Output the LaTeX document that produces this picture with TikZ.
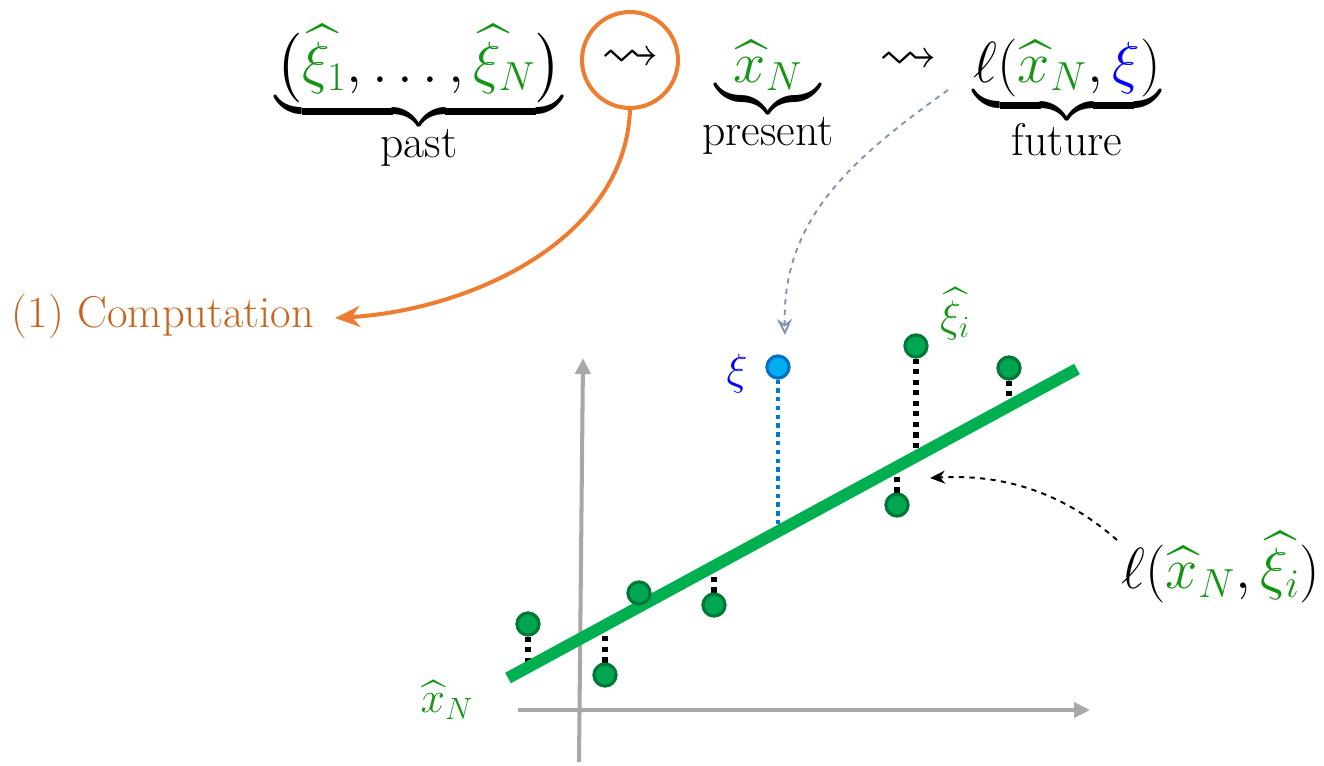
\RequirePackage{fix-cm}
\documentclass[tikz,border=0pt]{standalone}
\usepackage{amsmath,amssymb}
\DeclareFontFamily{U}{msa}{}
\DeclareFontShape{U}{msa}{m}{n}{<-6>msam5<6-8>msam7<8->msam10}{}
\usetikzlibrary{arrows.meta}
\definecolor{myorange}{RGB}{237,125,49}
\definecolor{txtorange}{RGB}{200,100,30}
\definecolor{mygreen}{RGB}{20,150,20}
\definecolor{linegreen}{RGB}{0,176,80}
\definecolor{ptfill}{RGB}{0,166,81}
\definecolor{ptdraw}{RGB}{0,120,55}
\definecolor{bfill}{RGB}{0,174,239}
\definecolor{bdraw}{RGB}{0,114,198}
\definecolor{axgray}{RGB}{168,168,168}
\definecolor{slate}{RGB}{130,150,180}
\definecolor{dotblue}{RGB}{0,120,210}
\newcommand{\G}[1]{{\color{mygreen}#1}}
\newcommand{\B}[1]{{\color{blue}#1}}
\newcommand{\lbl}[1]{\hbox{\fontsize{26}{30}\selectfont\vphantom{p}#1}}
\begin{document}
\begin{tikzpicture}[x=0.02cm,y=-0.02cm,
  big/.style={font=\fontsize{33}{40}\selectfont, inner sep=0pt},
  mid/.style={font=\fontsize{25}{30}\selectfont, inner sep=0pt},
  pt/.style={circle, minimum size=0.44cm, inner sep=0pt, fill=ptfill, draw=ptdraw, line width=1.7pt},
  bpt/.style={circle, minimum size=0.44cm, inner sep=0pt, fill=bfill, draw=bdraw, line width=1.7pt},
  dotline/.style={line width=3pt, dash pattern=on 3pt off 3pt},
  axis/.style={axgray, line width=2.3pt, -{Triangle[length=0.32cm,width=0.3cm]}}
]
\useasboundingbox (0,0) rectangle (1324,765);

% top formula
\node[big, anchor=base] (past) at (419,82)
  {$\underbrace{\bigl(\G{\widehat{\xi}_1},\ldots,\G{\widehat{\xi}_N}\bigr)}_{\lbl{past}}$};
\node[big, circle, draw=myorange, line width=2.3pt, minimum size=1.92cm] (circ) at (630,60) {$\rightsquigarrow$};
\node[big, anchor=base] (present) at (768,82)
  {$\underbrace{\G{\widehat{x}_N}}_{\lbl{present}}$};
\node[big] (sq) at (908,62) {$\rightsquigarrow$};
\node[big, anchor=base] (future) at (1067,82)
  {$\underbrace{\ell(\G{\widehat{x}_N},\B{\xi})}_{\lbl{future}}$};

\node[mid, font=\fontsize{25.4}{30}\selectfont, text=txtorange] (comp) at (163,316) {(1) Computation};
\coordinate (compend) at (335,318);

% axes
\coordinate (xa0) at (518,710);
\coordinate (xa1) at (1090,710);
\coordinate (ya0) at (579,762);
\coordinate (ya1) at (583,358);
\draw[axis] (xa0) -- (xa1);
\draw[axis] (ya0) -- (ya1);

% points
\node[pt] (p1) at (528,624) {};
\node[pt] (p2) at (605,675) {};
\node[pt] (p3) at (639,593) {};
\node[pt] (p4) at (714,605) {};
\node[bpt] (pb) at (778,367) {};
\node[pt] (p6) at (897,505) {};
\node[pt] (p7) at (916,346) {};
\node[pt] (p8) at (1009,368) {};

\coordinate (l1) at (528,667);
\coordinate (l2) at (605,625);
\coordinate (l4) at (714,566);
\coordinate (lb) at (778,531);
\coordinate (l6) at (897,467);
\coordinate (l7) at (916,457);
\coordinate (l8) at (1009,406);

\draw[dotline] (p1) -- (l1);
\draw[dotline] (p2) -- (l2);
\draw[dotline] (p4) -- (l4);
\draw[dotline, dotblue, line width=2.5pt, dash pattern=on 2.5pt off 2.5pt] (pb) -- (lb);
\draw[dotline] (p6) -- (l6);
\draw[dotline] (p7) -- (l7);
\draw[dotline] (p8) -- (l8);

\coordinate (la) at (508,678);
\coordinate (lz) at (1077,369);
\draw[linegreen, line width=6.8pt] (la) -- (lz);

% redraw points on top
\foreach \x/\y in {528/624, 605/675, 639/593, 714/605, 897/505, 916/346, 1009/368}
  \node[pt] at (\x,\y) {};
\node[bpt] at (778,367) {};

% labels
\node[mid, text=mygreen] (xil) at (955,314) {$\widehat{\xi}_i$};
\node[mid, text=blue] (xib) at (737,374) {$\xi$};
\node[mid, text=mygreen] (xnl) at (447,700) {$\widehat{x}_N$};
\node[big] (loss) at (1221,567) {$\ell(\G{\widehat{x}_N},\G{\widehat{\xi}_i})$};

% arrows
\coordinate (ls) at (1117,540);
\coordinate (lossarr) at (930,478);
\draw[dashed, line width=1.1pt, -{Stealth[length=0.3cm,width=0.26cm]}]
  (ls) .. controls (1060,490) and (1000,474) .. (lossarr);
\coordinate (gs) at (948,90);
\coordinate (ge) at (785,335);
\draw[slate, dashed, line width=1.1pt, -{Stealth[length=0.32cm,width=0.3cm,open]}]
  (gs) .. controls (850,160) and (782,220) .. (ge);
\draw[myorange, line width=2.3pt, -{Stealth[length=0.5cm,width=0.42cm]}]
  (circ.south) .. controls (625,240) and (470,310) .. (compend);
\end{tikzpicture}
\end{document}
